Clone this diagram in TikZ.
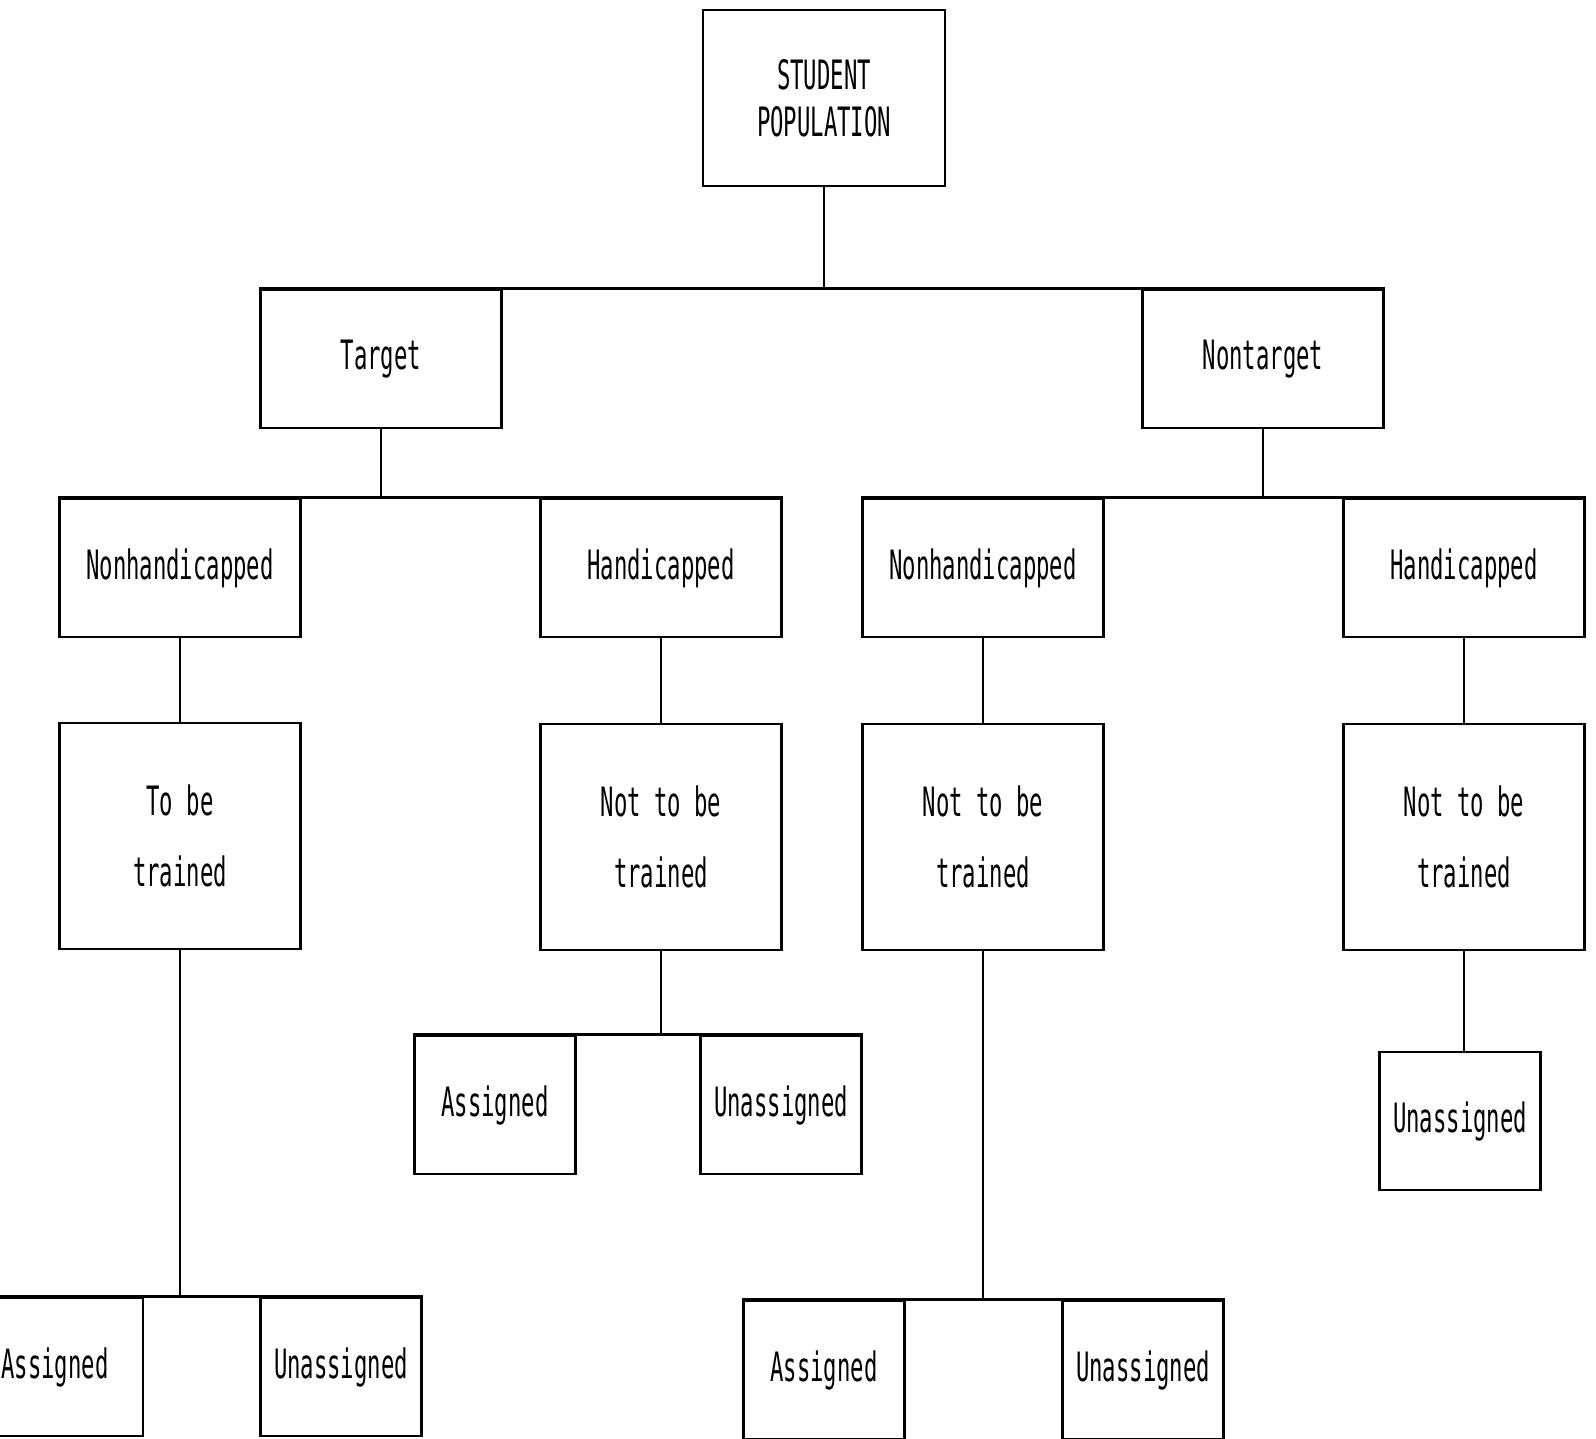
\documentclass[tikz,border=0pt]{standalone}
\usepackage{fontspec}
\usepackage{tikz}
\usetikzlibrary{positioning, calc}
\newfontfamily\boxfont[FakeStretch=0.55]{DejaVu Sans Mono}

\tikzset{
    box/.style={draw, line width=0.8pt, inner sep=0pt, align=center, font={\boxfont\fontsize{11.5}{20}\selectfont}},
    topbox/.style={box, minimum width=2.42cm, minimum height=1.76cm, font={\boxfont\fontsize{11.5}{13.3}\selectfont}},
    midbox/.style={box, minimum width=2.41cm, minimum height=1.38cm},
    tallbox/.style={box, minimum width=2.41cm, minimum height=2.26cm},
    leafbox/.style={box, minimum width=1.61cm, minimum height=1.38cm},
    link/.style={line width=0.8pt}
}

\begin{document}
\begin{tikzpicture}[x=0.01cm, y=-0.01cm]
    \useasboundingbox (0,0) rectangle (1596,1439);

    % Top of the tree
    \node[topbox] (pop) at (824,98) {STUDENT\\POPULATION};
    \node[midbox] (target) at (381,359) {Target};
    \node[midbox] (nontarget) at (1263,359) {Nontarget};

    % Second level
    \node[midbox] (nonhA) at (180,568) {Nonhandicapped};
    \node[midbox] (handA) at (661,568) {Handicapped};
    \node[midbox] (nonhB) at (983,568) {Nonhandicapped};
    \node[midbox] (handB) at (1464,568) {Handicapped};

    % Training boxes
    \node[tallbox] (trainA) at (180,836) {To be\\trained};
    \node[tallbox] (nottrA) at (661,837) {Not to be\\trained};
    \node[tallbox] (nottrB) at (983,837) {Not to be\\trained};
    \node[tallbox] (nottrC) at (1464,837) {Not to be\\trained};

    % Leaves
    \node[leafbox, minimum width=1.76cm] (asgA) at (55,1367) {Assigned};
    \node[leafbox] (unasA) at (341,1367) {Unassigned};
    \node[leafbox] (asgB) at (495,1105) {Assigned};
    \node[leafbox] (unasB) at (781,1105) {Unassigned};
    \node[leafbox] (asgC) at (824,1370) {Assigned};
    \node[leafbox] (unasC) at (1143,1370) {Unassigned};
    \node[leafbox] (unasD) at (1460,1121) {Unassigned};

    % Connectors
    \draw[link] (pop.south) -- (pop.south |- target.north);
    \draw[link] (target.north west) -- (nontarget.north east);
    \draw[link] (target.south) -- (target.south |- nonhA.north);
    \draw[link] (nonhA.north west) -- (handA.north east);
    \draw[link] (nontarget.south) -- (nontarget.south |- nonhB.north);
    \draw[link] (nonhB.north west) -- (handB.north east);
    \draw[link] (nonhA.south) -- (nonhA.south |- trainA.north);
    \draw[link] (handA.south) -- (handA.south |- nottrA.north);
    \draw[link] (nonhB.south) -- (nonhB.south |- nottrB.north);
    \draw[link] (handB.south) -- (handB.south |- nottrC.north);
    \draw[link] (trainA.south) -- (trainA.south |- unasA.north);
    \draw[link] (asgA.north west) -- (unasA.north east);
    \draw[link] (nottrA.south) -- (nottrA.south |- asgB.north);
    \draw[link] (asgB.north west) -- (unasB.north east);
    \draw[link] (nottrB.south) -- (nottrB.south |- asgC.north);
    \draw[link] (asgC.north west) -- (unasC.north east);
    \draw[link] (nottrC.south) -- (nottrC.south |- unasD.north);
\end{tikzpicture}
\end{document}
